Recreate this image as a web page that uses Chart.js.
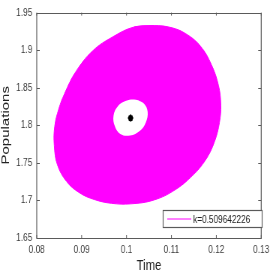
<!DOCTYPE html>
<html><head><meta charset="utf-8">
<script src="https://cdn.jsdelivr.net/npm/chart.js@4.4.0/dist/chart.umd.min.js"></script>
<style>
html,body{margin:0;padding:0;background:#fff;overflow:hidden}
#wrap{width:364px;height:273px;transform:scale(0.75,1);transform-origin:0 0}
</style>
</head><body><div id="wrap"><canvas id="c" width="364" height="273"></canvas></div>
<script>
const seriesLabel = 'k=0.509642226';
// outer boundary of the trajectory band
const outerX = [0.1017,0.1061,0.1099,0.1132,0.1165,0.1189,0.1205,0.1210,0.1207,0.1196,0.1176,0.1147,0.1108,0.1061,0.1010,0.0966,0.0928,0.0895,0.0866,0.0846,0.0839,0.0840,0.0849,0.0862,0.0886,0.0924,0.0970];
const outerY = [1.9308,1.9327,1.9301,1.9218,1.9051,1.8808,1.8526,1.8269,1.8038,1.7782,1.7538,1.7333,1.7141,1.7006,1.6955,1.6962,1.7013,1.7103,1.7256,1.7474,1.7731,1.7987,1.8218,1.8423,1.8705,1.8987,1.9179];
// inner empty hole
const innerX = [0.1021,0.1039,0.1047,0.1043,0.1030,0.1008,0.0986,0.0974,0.0971,0.0981,0.0999];
const innerY = [1.8340,1.8288,1.8179,1.8038,1.7929,1.7865,1.7885,1.7987,1.8128,1.8256,1.8327];
// equilibrium point
const centerX = [0.1009];
const centerY = [1.8096];
const xTicks = [0.08,0.09,0.1,0.11,0.12,0.13];
const yTicks = [1.65,1.7,1.75,1.8,1.85,1.9,1.95];

function loop(xs, ys){
  const p = xs.map((x,i)=>({x:x,y:ys[i]}));
  p.push({x:xs[0],y:ys[0]});
  p.push({x:xs[1],y:ys[1]});
  return p;
}
const MAG = '#ff00ff';
const FONT = "'Liberation Sans',Arial,Helvetica,sans-serif";
const AXC = '#5a5a5a';

const framePlugin = {
  id:'frame',
  afterDatasetsDraw(chart){
    const {ctx, chartArea:a, scales:{x,y}} = chart;
    ctx.save();
    ctx.strokeStyle = AXC; ctx.lineWidth = 1.2;
    ctx.beginPath();
    ctx.rect(a.left, Math.round(a.top)+0.5, a.right-a.left, Math.round(a.bottom-a.top));
    ctx.stroke();
    ctx.lineWidth = 1;
    ctx.beginPath();
    xTicks.forEach(v=>{const px=x.getPixelForValue(v);
      ctx.moveTo(px,a.bottom);ctx.lineTo(px,a.bottom-3);
      ctx.moveTo(px,a.top);ctx.lineTo(px,a.top+3);});
    yTicks.forEach(v=>{const py=Math.round(y.getPixelForValue(v))+0.5;
      ctx.moveTo(a.left,py);ctx.lineTo(a.left+4,py);
      ctx.moveTo(a.right,py);ctx.lineTo(a.right-4,py);});
    ctx.stroke();
    ctx.restore();
  },
  afterDraw(chart){
    const ctx = chart.ctx;
    const ds = chart.data.datasets[0];
    ctx.save();
    const bx=217.5, by=210.5, bw=132, bh=17;
    ctx.fillStyle='#fff'; ctx.fillRect(bx,by,bw,bh);
    ctx.strokeStyle=AXC; ctx.lineWidth=1.2; ctx.strokeRect(bx,by,bw,bh);
    ctx.strokeStyle=ds.borderColor; ctx.lineWidth=1; ctx.beginPath();
    ctx.moveTo(223,219); ctx.lineTo(255,219); ctx.stroke();
    ctx.fillStyle='#222'; ctx.font = "11px "+FONT; ctx.textBaseline='middle';
    ctx.fillText(ds.label, 257.5, 219.5);
    ctx.restore();
  }
};

new Chart(document.getElementById('c'), {
  type:'scatter',
  data:{datasets:[
    {label:seriesLabel, data:loop(outerX,outerY), showLine:true, tension:0.4,
     borderColor:MAG, backgroundColor:MAG, borderWidth:1, pointRadius:0, fill:'shape', order:3},
    {label:'hole', data:loop(innerX,innerY), showLine:true, tension:0.4,
     borderColor:'#ffffff', backgroundColor:'#ffffff', borderWidth:0, pointRadius:0, fill:'shape', order:2},
    {label:'eq', data:centerX.map((x,i)=>({x:x,y:centerY[i]})), pointStyle:'star', pointRadius:3.5,
     borderColor:'#000', backgroundColor:'#000', borderWidth:2, showLine:false, order:1}
  ]},
  options:{
    responsive:false, animation:false, devicePixelRatio:1,
    layout:{padding:{top:4,right:13,left:0,bottom:0}},
    plugins:{legend:{display:false}, tooltip:{enabled:false}},
    scales:{
      x:{type:'linear', min:0.08, max:0.13,
         afterBuildTicks:s=>{s.ticks=xTicks.map(v=>({value:v}));},
         afterFit:s=>{s.height=35;},
         grid:{display:false, drawTicks:false}, border:{display:false},
         ticks:{padding:5, color:'#3a3a3a', font:{family:FONT,size:11}, callback:v=>String(v), maxRotation:0, autoSkip:false},
         title:{display:true, text:'Time', color:'#222', font:{family:FONT,size:15,lineHeight:1}, padding:{top:0,bottom:0}}},
      y:{type:'linear', min:1.65, max:1.95,
         afterBuildTicks:s=>{s.ticks=yTicks.map(v=>({value:v}));},
         afterFit:s=>{s.width=49;},
         grid:{display:false, drawTicks:false}, border:{display:false},
         ticks:{padding:6, color:'#3a3a3a', font:{family:FONT,size:11}, callback:v=>String(v), autoSkip:false},
         title:{display:true, text:'Populations', color:'#222', font:{family:FONT,size:15,lineHeight:1}, padding:{top:0,bottom:0}}}
    }
  },
  plugins:[framePlugin]
});
</script></body></html>
